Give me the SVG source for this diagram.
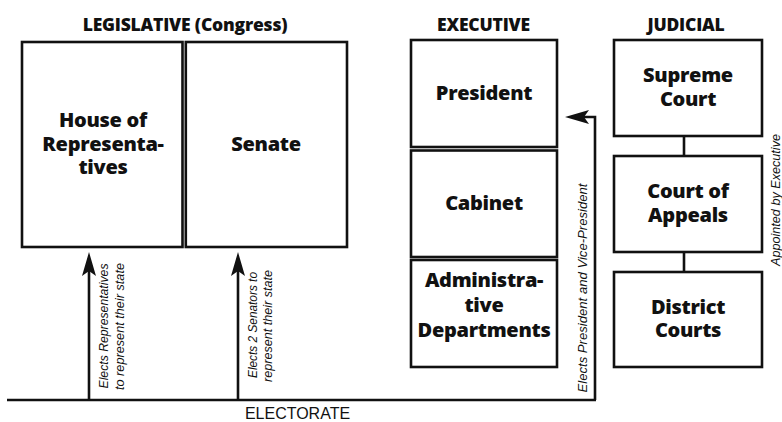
<svg xmlns="http://www.w3.org/2000/svg" width="782" height="422" viewBox="0 0 782 422">
<style>
.box{fill:#fff;stroke:#111;stroke-width:2.6}
.lbl{font-family:"Open Sans",Lato,"Liberation Sans",sans-serif;font-weight:800;font-size:20px;fill:#111;text-anchor:middle;letter-spacing:-0.3px}
.hdr{font-family:"Open Sans",Lato,"Liberation Sans",sans-serif;font-weight:800;font-size:17.5px;fill:#111;text-anchor:middle;letter-spacing:-0.2px}
.note{font-family:"Liberation Sans",Arial,sans-serif;font-style:italic;font-size:13px;fill:#111;text-anchor:middle}
.ln{fill:none;stroke:#111;stroke-width:2.6}
.plain{font-family:"Liberation Sans",Arial,sans-serif;font-size:16px;fill:#111;text-anchor:middle}
</style>
<defs>
<marker id="ah" viewBox="0 0 24 14" refX="5" refY="7" markerWidth="24" markerHeight="14" orient="auto" markerUnits="userSpaceOnUse">
<path d="M0,0 L24,7 L0,14 L5,7 z" fill="#111"/>
</marker>
</defs>
<rect width="782" height="422" fill="#fff"/>

<g id="headers">
<text class="hdr" x="185" y="31">LEGISLATIVE (Congress)</text>
<text class="hdr" x="483.5" y="31">EXECUTIVE</text>
<text class="hdr" x="686" y="31">JUDICIAL</text>
</g>

<g id="house">
<rect class="box" x="22" y="42" width="160.5" height="205"/>
<text class="lbl" x="103" y="127">House of</text>
<text class="lbl" x="103" y="150.5">Representa-</text>
<text class="lbl" x="103" y="174">tives</text>
</g>
<g id="senate">
<rect class="box" x="185.8" y="42" width="161.2" height="205"/>
<text class="lbl" x="266" y="150.5">Senate</text>
</g>

<g id="president">
<rect class="box" x="411" y="40" width="146" height="107"/>
<text class="lbl" x="484" y="100">President</text>
</g>
<g id="cabinet">
<rect class="box" x="411" y="150.5" width="146" height="106.5"/>
<text class="lbl" x="484" y="210">Cabinet</text>
</g>
<g id="admin">
<rect class="box" x="411" y="260" width="146" height="107"/>
<text class="lbl" x="484" y="287">Administra-</text>
<text class="lbl" x="484" y="312">tive</text>
<text class="lbl" x="484" y="337">Departments</text>
</g>

<g id="supreme">
<rect class="box" x="614" y="40" width="148" height="96"/>
<text class="lbl" x="688" y="82">Supreme</text>
<text class="lbl" x="688" y="106">Court</text>
</g>
<g id="appeals">
<rect class="box" x="614" y="156" width="148" height="96"/>
<text class="lbl" x="688" y="198">Court of</text>
<text class="lbl" x="688" y="222">Appeals</text>
</g>
<g id="district">
<rect class="box" x="614" y="272" width="148" height="95"/>
<text class="lbl" x="688" y="314">District</text>
<text class="lbl" x="688" y="337">Courts</text>
</g>

<g id="electorate">
<text class="plain" x="297.5" y="419">ELECTORATE</text>
</g>

<g id="connectors">
<line class="ln" x1="7" y1="400" x2="596" y2="400"/>
<line class="ln" x1="89" y1="401" x2="89" y2="271" marker-end="url(#ah)"/>
<line class="ln" x1="238" y1="401" x2="238" y2="271" marker-end="url(#ah)"/>
<path class="ln" d="M595,400 V117 H584" marker-end="url(#ah)"/>
<line class="ln" x1="684" y1="136" x2="684" y2="156"/>
<line class="ln" x1="684" y1="252" x2="684" y2="272"/>
</g>

<g id="edge-labels">
<text class="note" transform="translate(108,326) rotate(-90)" textLength="125" lengthAdjust="spacingAndGlyphs">Elects Representatives</text>
<text class="note" transform="translate(124,326.5) rotate(-90)" textLength="127" lengthAdjust="spacingAndGlyphs">to represent their state</text>
<text class="note" transform="translate(257,325) rotate(-90)" textLength="106" lengthAdjust="spacingAndGlyphs">Elects 2 Senators to</text>
<text class="note" transform="translate(272,326) rotate(-90)" textLength="112" lengthAdjust="spacingAndGlyphs">represent their state</text>
<text class="note" transform="translate(587,288) rotate(-90)" textLength="209" lengthAdjust="spacingAndGlyphs">Elects President and Vice-President</text>
<text class="note" transform="translate(780,200) rotate(-90)" textLength="132" lengthAdjust="spacingAndGlyphs">Appointed by Executive</text>
</g>
</svg>
